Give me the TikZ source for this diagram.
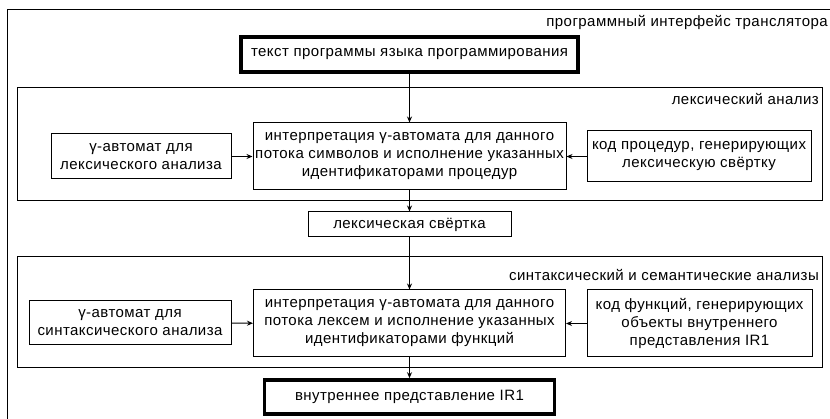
\documentclass[tikz,border=0pt]{standalone}
\usepackage{fontspec}
\setmainfont{Liberation Sans}[LetterSpace=3]
\usetikzlibrary{arrows.meta}
\begin{document}
\begin{tikzpicture}[x=1pt,y=-1pt,
  font=\fontsize{15}{18}\selectfont,
  box/.style={draw,line width=1pt,align=center,inner sep=0pt},
  thickbox/.style={box,line width=3.6pt},
  frame/.style={draw,line width=1pt},
  lbl/.style={anchor=east,inner sep=0pt},
  arr/.style={-{Stealth[length=6pt,width=5pt]},line width=1pt}]
\useasboundingbox (0,0) rectangle (830,419);
\clip (0,0) rectangle (830,419);
\draw[frame] (7,10) rectangle (836,425);
\node[lbl] (lblOuter) at (828,22) {программный интерфейс транслятора};
\draw[frame] (17,88) rectangle (822,201);
\node[lbl] (lblLex) at (819,99) {лексический анализ};
\draw[frame] (17,257) rectangle (822,368);
\node[lbl] (lblSyn) at (819,275) {синтаксический и семантические анализы};

\node[thickbox,minimum width=337pt,minimum height=35pt] (src) at (409.5,54.5) {текст программы языка программирования};
\node[box,minimum width=313pt,minimum height=67pt] (int1) at (409.5,156.5) {интерпретация γ-автомата для данного\\потока символов и исполнение указанных\\идентификаторами процедур};
\node[box,minimum width=180pt,minimum height=45pt] (g1) at (141,156.5) {γ-автомат для\\лексического анализа};
\node[box,minimum width=224pt,minimum height=51pt] (c1) at (699,156.5) {код процедур, генерирующих\\лексическую свёртку};
\node[box,minimum width=203pt,minimum height=25pt] (lex) at (409.5,224.5) {лексическая свёртка};
\node[box,minimum width=312pt,minimum height=67pt] (int2) at (409.5,323.5) {интерпретация γ-автомата для данного\\потока лексем и исполнение указанных\\идентификаторами функций};
\node[box,minimum width=202pt,minimum height=44pt] (g2) at (130,323) {γ-автомат для\\синтаксического анализа};
\node[box,minimum width=225pt,minimum height=67pt] (c2) at (699.5,323.5) {код функций, генерирующих\\объекты внутреннего\\представления IR1};
\node[thickbox,minimum width=290pt,minimum height=34pt] (ir) at (409.5,397) {внутреннее представление IR1};

\draw[arr] (src) -- (int1);
\draw[arr] (int1) -- (lex);
\draw[arr] (lex) -- (int2);
\draw[arr] (int2) -- (ir);
\draw[arr] (g1) -- (int1);
\draw[arr] (c1) -- (int1);
\draw[arr] (g2) -- (int2);
\draw[arr] (c2) -- (int2);
\end{tikzpicture}
\end{document}
